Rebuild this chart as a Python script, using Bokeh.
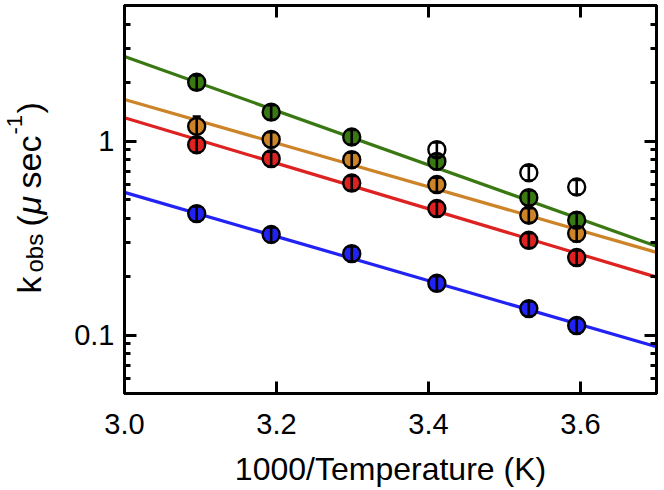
import math
from bokeh.plotting import figure
from bokeh.core.properties import value
from bokeh.models import (FixedTicker, CustomJSTickFormatter, LinearAxis, LogAxis,
                          ColumnDataSource, Whisker, TeeHead, Range1d, LinearScale)
from bokeh.embed import file_html
from bokeh.resources import INLINE

# ---------------- data ----------------
inv_temp = [3.095, 3.193, 3.299, 3.411, 3.532, 3.595]
k_green = [2.01, 1.41, 1.05, 0.786, 0.511, 0.391]
k_orange = [1.19, 1.02, 0.802, 0.597, 0.415, 0.334]
k_red = [0.958, 0.812, 0.608, 0.449, 0.308, 0.251]
k_blue = [0.423, 0.330, 0.263, 0.185, 0.137, 0.112]
err_green = [0.17, 0.12, 0.09, 0.07, 0.045, 0.035]
err_orange = [0.15, 0.09, 0.07, 0.05, 0.036, 0.03]
err_red = [0.085, 0.07, 0.052, 0.04, 0.027, 0.022]
err_blue = [0.037, 0.029, 0.023, 0.016, 0.012, 0.01]

open_x = [3.411, 3.532, 3.595]
k_open = [0.903, 0.687, 0.580]
err_open = [0.08, 0.06, 0.05]

fit_x = [3.0, 3.7]
fit_green = [2.73, 0.287]
fit_orange = [1.64, 0.267]
fit_red = [1.32, 0.199]
fit_blue = [0.544, 0.087]

x_ticks = [3.0, 3.2, 3.4, 3.6]
x_tick_labels = ["3.0", "3.2", "3.4", "3.6"]
y_major = [0.1, 1.0]
y_tick_labels = ["0.1", "1"]
y_minor = [0.05, 0.06, 0.07, 0.08, 0.09, 0.2, 0.3, 0.4, 0.5, 0.6, 0.7, 0.8, 0.9,
           2.0, 3.0, 4.0, 5.0]

colors = {"green": "#397812", "orange": "#CD8429", "red": "#DE2121", "blue": "#2222F4"}
series = [
    ("blue", k_blue, err_blue, fit_blue),
    ("red", k_red, err_red, fit_red),
    ("orange", k_orange, err_orange, fit_orange),
    ("green", k_green, err_green, fit_green),
]

FONT = "Liberation Sans"
FL, FR, FT, FB = 124, 656, 5, 393   # frame edges in canvas pixels

p = figure(frame_width=FR - FL, frame_height=FB - FT,
           x_range=Range1d(3.0, 3.7), y_range=Range1d(0.05, 5.0),
           y_axis_type="log", output_backend="svg", toolbar_location=None,
           min_border_left=FL, min_border_right=6, min_border_top=FT,
           min_border_bottom=0)
p.background_fill_color = "white"
p.border_fill_color = "white"
p.outline_line_color = "black"
p.outline_line_width = 3
p.grid.visible = False

# pixel coordinate system (for the composite y-axis title only)
p.extra_x_ranges = {"px": Range1d(FL, FR)}
p.extra_y_ranges = {"py": Range1d(FB, FT)}
p.extra_x_scales = {"px": LinearScale()}
p.extra_y_scales = {"py": LinearScale()}


def label_formatter(vals, labels):
    return CustomJSTickFormatter(
        args=dict(tvals=vals, tlabels=labels),
        code="""
        for (let i = 0; i < tvals.length; i++) {
            if (Math.abs(tvals[i] - tick) < 1e-9 * Math.max(1, Math.abs(tick))) return tlabels[i];
        }
        return '';
        """)


def style_axis(ax):
    ax.axis_line_width = 3
    ax.axis_line_color = "black"
    ax.major_tick_in = 12
    ax.major_tick_out = 0
    ax.major_tick_line_width = 3
    ax.major_tick_line_color = "black"
    ax.minor_tick_in = 6
    ax.minor_tick_out = 0
    ax.minor_tick_line_width = 3
    ax.minor_tick_line_color = "black"


# bottom axis
xa = p.xaxis[0]
xa.ticker = FixedTicker(ticks=x_ticks, minor_ticks=[])
xa.formatter = label_formatter(x_ticks, x_tick_labels)
style_axis(xa)
xa.minor_tick_line_color = None
xa.major_label_text_font = FONT
xa.major_label_text_font_size = "29px"
xa.major_label_text_color = "black"
xa.major_label_standoff = 20
xa.axis_label = "1000/Temperature (K)"
xa.axis_label_text_font = FONT
xa.axis_label_text_font_size = "32px"
xa.axis_label_text_font_style = "normal"
xa.axis_label_text_color = "black"
xa.axis_label_standoff = 14

# left axis
ya = p.yaxis[0]
ya.ticker = FixedTicker(ticks=y_major, minor_ticks=y_minor)
ya.formatter = label_formatter(y_major, y_tick_labels)
style_axis(ya)
ya.major_label_text_font = FONT
ya.major_label_text_font_size = "29px"
ya.major_label_text_color = "black"
ya.major_label_standoff = 10

empty = CustomJSTickFormatter(code="return '';")
top = LinearAxis(ticker=FixedTicker(ticks=x_ticks, minor_ticks=[]), formatter=empty,
                 major_label_text_font_size="0px", major_label_standoff=0)
style_axis(top)
top.minor_tick_line_color = None
p.add_layout(top, "above")

right = LogAxis(ticker=FixedTicker(ticks=y_major, minor_ticks=y_minor), formatter=empty,
                major_label_text_font_size="0px", major_label_standoff=0)
style_axis(right)
p.add_layout(right, "right")

# fit lines
for name, k, err, fit in series:
    p.line(fit_x, fit, line_color=colors[name], line_width=3.2)

head = dict(size=8, line_width=2.5, line_color="black")

# data points with error bars
for name, k, err, fit in series:
    src = ColumnDataSource(dict(x=inv_temp, y=k,
                                lo=[a - b for a, b in zip(k, err)],
                                hi=[a + b for a, b in zip(k, err)]))
    p.scatter("x", "y", source=src, size=17, fill_color=colors[name],
              line_color="black", line_width=2.4)
    p.add_layout(Whisker(source=src, base="x", lower="lo", upper="hi",
                         dimension="height", line_color="black", line_width=2.6,
                         upper_head=TeeHead(**head), lower_head=TeeHead(**head),
                         level="overlay"))

osrc = ColumnDataSource(dict(x=open_x, y=k_open,
                             lo=[a - b for a, b in zip(k_open, err_open)],
                             hi=[a + b for a, b in zip(k_open, err_open)]))
p.scatter("x", "y", source=osrc, size=17, fill_alpha=0, line_color="black", line_width=2.4)
p.add_layout(Whisker(source=osrc, base="x", lower="lo", upper="hi",
                     dimension="height", line_color="black", line_width=2.6,
                     upper_head=TeeHead(**head), lower_head=TeeHead(**head),
                     level="overlay"))

# ---------- y-axis title: k_obs (μsec^-1), rotated, drawn in pixel coords ----------
S, SUB, SUP = 34, 24, 22
# (text, font size, baseline x, start y (bottom end of the piece), style)
pieces = [("k", S, 28, 293, "normal"),
          ("obs", SUB, 34, 272, "normal"),
          ("(", S, 28, 226, "normal"),
          ("μ", S, 28, 214, "italic"),
          ("sec", S, 28, 188, "normal"),
          ("-1", SUP, 14, 134, "normal"),
          (")", S, 28, 113, "normal")]
for t, sz, bx, by, style in pieces:
    p.text(x=[bx], y=[by], text=[t], angle=math.pi / 2,
           x_range_name="px", y_range_name="py", level="overlay",
           text_font=value(FONT), text_font_size=value(f"{sz}px"),
           text_font_style=value(style), text_color="black",
           text_align="left", text_baseline="alphabetic")

open("out.html", "w").write(file_html(p, INLINE))
